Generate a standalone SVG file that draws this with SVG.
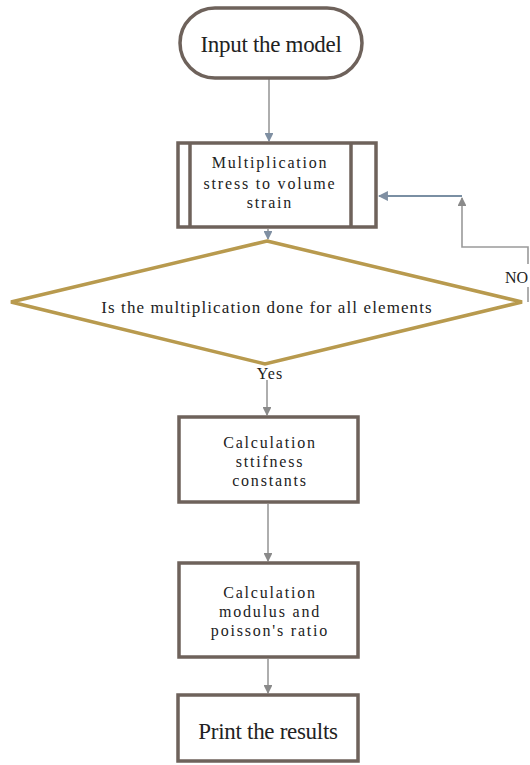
<svg xmlns="http://www.w3.org/2000/svg" width="530" height="765" viewBox="0 0 530 765">
<defs>
<style>
.box{fill:#fff;stroke:#6e625b;stroke-width:3.5}
.dia{fill:#fff;stroke:#b89a4e;stroke-width:3.5}
.ln{fill:none;stroke:#9a9a9a;stroke-width:1.6}
.lb{fill:none;stroke:#7a8fa3;stroke-width:1.8}
.t{font-family:"Liberation Serif","Times New Roman",serif;fill:#222;text-anchor:middle}
.s{font-size:16px;letter-spacing:1.8px}
.b{font-size:23px;letter-spacing:-0.3px}
</style>
<marker id="ah" viewBox="0 0 10 10" refX="9" refY="5" markerWidth="5.5" markerHeight="5.5" orient="auto">
<path d="M0,0 L10,5 L0,10 z" fill="#7f8fa2"/>
</marker>
<marker id="ag" viewBox="0 0 10 10" refX="9" refY="5" markerWidth="5.5" markerHeight="5.5" orient="auto">
<path d="M0,0 L10,5 L0,10 z" fill="#8a8a8a"/>
</marker>
</defs>
<rect width="530" height="765" fill="#fff"/>
<g id="connectors">
<line class="ln" x1="269" y1="79" x2="269" y2="141" marker-end="url(#ah)"/>
<line class="ln" x1="268" y1="229" x2="268" y2="239" marker-end="url(#ah)"/>
<line class="ln" x1="267" y1="380" x2="267" y2="415" marker-end="url(#ag)"/>
<line class="ln" x1="268" y1="504" x2="268" y2="561" marker-end="url(#ag)"/>
<line class="ln" x1="268" y1="659" x2="268" y2="693" marker-end="url(#ag)"/>
<polyline class="ln" points="528,302 528,287"/>
<polyline class="ln" points="528,264 528,247 462,247 462,198" marker-end="url(#ag)"/>
<line class="lb" x1="462" y1="196" x2="379" y2="196" marker-end="url(#ah)"/>
<text class="t" x="505" y="283" style="text-anchor:start;font-size:16px">NO</text>
<text class="t" x="270" y="379" style="font-size:16px;letter-spacing:1px">Yes</text>
</g>
<g id="start">
<rect class="box" x="180" y="8" width="182" height="70" rx="35"/>
<text class="t b" x="271" y="52">Input the model</text>
</g>
<g id="multiply">
<rect class="box" x="178" y="143" width="198" height="84"/>
<line class="box" x1="190" y1="143" x2="190" y2="227"/>
<line class="box" x1="351" y1="143" x2="351" y2="227"/>
<text class="t s" x="270" y="168">Multiplication</text>
<text class="t s" x="270" y="189">stress to volume</text>
<text class="t s" x="270" y="208">strain</text>
</g>
<g id="decision">
<polygon class="dia" points="267,241 522,302 265,364 11,302"/>
<text class="t" x="267" y="313" style="font-size:17px;letter-spacing:1.1px">Is the multiplication done for all elements</text>
</g>
<g id="stiffness">
<rect class="box" x="179" y="417" width="179" height="85"/>
<text class="t s" x="270" y="448">Calculation</text>
<text class="t s" x="270" y="467">sttifness</text>
<text class="t s" x="270" y="486">constants</text>
</g>
<g id="modulus">
<rect class="box" x="179" y="563" width="179" height="94"/>
<text class="t s" x="270" y="598">Calculation</text>
<text class="t s" x="270" y="617">modulus and</text>
<text class="t s" x="270" y="636">poisson's ratio</text>
</g>
<g id="print">
<rect class="box" x="178" y="695" width="180" height="66"/>
<text class="t b" x="268" y="739">Print the results</text>
</g>
</svg>
